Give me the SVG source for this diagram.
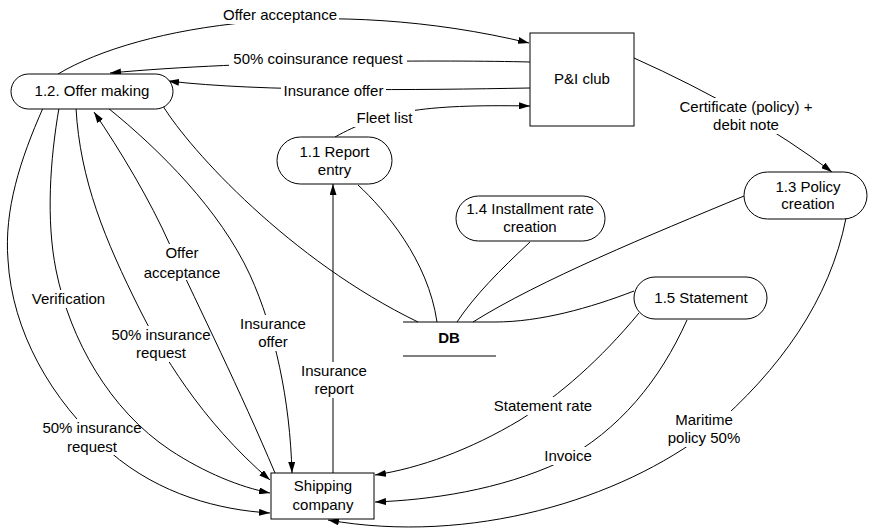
<svg xmlns="http://www.w3.org/2000/svg" width="869" height="531" viewBox="0 0 869 531">
<style>
.ln{fill:none;stroke:#000;stroke-width:1}
.arr{marker-end:url(#ah)}
.nd{fill:#fff;stroke:#000;stroke-width:1}
.t{font-family:"Liberation Sans",Arial,sans-serif;font-size:15px;fill:#000;text-anchor:middle}
.b{font-weight:bold}
.bg{fill:#fff;stroke:none}
</style>
<defs>
<marker id="ah" viewBox="0 0 11 7" refX="11" refY="3.5" markerWidth="11" markerHeight="7" markerUnits="userSpaceOnUse" orient="auto">
<path d="M0,0 L11,3.5 L0,7 z" fill="#000"/>
</marker>
</defs>
<rect width="869" height="531" fill="#fff"/>
<g id="connectors">
<g id="c-offer-acc-top"><path class="ln arr" d="M58,74 C140,25 330,-5 529,43"/><rect class="bg" x="221" y="6" width="118" height="18"/><text class="t" x="280" y="20">Offer acceptance</text></g>
<g id="c-coins"><path class="ln arr" d="M530,62 C450,60 250,60 110,73"/><rect class="bg" x="229" y="50" width="178" height="18"/><text class="t" x="318" y="64">50% coinsurance request</text></g>
<g id="c-ins-offer-top"><path class="ln arr" d="M530,88 C420,90 260,92 168,81"/><rect class="bg" x="281" y="82" width="105" height="18"/><text class="t" x="333.5" y="96">Insurance offer</text></g>
<g id="c-fleet"><path class="ln arr" d="M335,137 C380,112 420,104 530,106"/><rect class="bg" x="354" y="109" width="61" height="18"/><text class="t" x="384.5" y="123">Fleet list</text></g>
<g id="c-cert"><path class="ln arr" d="M634,58 Q750,110 832,172"/><rect class="bg" x="676" y="98" width="139" height="36"/><text class="t" x="746" y="112">Certificate (policy) +</text><text class="t" x="746" y="130">debit note</text></g>
<g id="c-50-outer"><path class="ln arr" d="M43,108 C20,160 4,210 8,260 C12,330 50,400 110,452 C160,495 220,510 270,513"/><rect class="bg" x="39" y="419" width="105" height="36"/><text class="t" x="92" y="433">50% insurance</text><text class="t" x="92" y="452">request</text></g>
<g id="c-verif"><path class="ln arr" d="M59,108 C50,160 46,220 56,270 C70,340 110,410 170,450 C205,473 240,487 270,493"/><rect class="bg" x="29" y="290" width="79" height="18"/><text class="t" x="68.5" y="304">Verification</text></g>
<g id="c-50-inner"><path class="ln arr" d="M76,108 C80,180 105,240 140,310 C160,350 200,420 270,480"/><rect class="bg" x="108" y="326" width="105" height="36"/><text class="t" x="161" y="340">50% insurance</text><text class="t" x="161" y="358">request</text></g>
<g id="c-offer-acc-mid"><path class="ln arr" d="M275,473 C240,390 200,310 170,245 C150,200 120,150 94,112"/><rect class="bg" x="141" y="244" width="82" height="36"/><text class="t" x="182" y="258">Offer</text><text class="t" x="182" y="278">acceptance</text></g>
<g id="c-ins-offer-mid"><path class="ln arr" d="M108,108 C160,150 220,210 250,275 C275,330 290,400 292,473"/><rect class="bg" x="238" y="315" width="71" height="36"/><text class="t" x="273" y="329">Insurance</text><text class="t" x="273" y="347">offer</text></g>
<g id="c-offer-db"><path class="ln" d="M163,106 C190,150 290,260 418,322"/></g>
<g id="c-report"><path class="ln arr" d="M333,473 L333,184"/><rect class="bg" x="299" y="362" width="70" height="36"/><text class="t" x="334" y="376">Insurance</text><text class="t" x="334" y="394">report</text></g>
<g id="c-11-db"><path class="ln" d="M358,185 C385,210 428,260 437,322"/></g>
<g id="c-14-db"><path class="ln" d="M530,242 C500,270 475,295 457,322"/></g>
<g id="c-13-db"><path class="ln" d="M744,196 C650,235 540,280 473,322"/></g>
<g id="c-15-db"><path class="ln" d="M634,291 C590,308 540,322 495,322"/></g>
<g id="c-stmt-rate"><path class="ln arr" d="M639,313 C600,360 560,395 520,420 C470,450 420,468 375,475"/><rect class="bg" x="492" y="397" width="102" height="18"/><text class="t" x="543" y="411">Statement rate</text></g>
<g id="c-invoice"><path class="ln arr" d="M687,320 C660,380 620,430 560,462 C500,490 430,500 375,502"/><rect class="bg" x="542" y="447" width="52" height="18"/><text class="t" x="568" y="461">Invoice</text></g>
<g id="c-maritime"><path class="ln arr" d="M846,218 C830,300 780,370 710,430 C620,500 470,545 328,520"/><rect class="bg" x="665" y="411" width="78" height="36"/><text class="t" x="704" y="425">Maritime</text><text class="t" x="704" y="443">policy 50%</text></g>
</g>
<g id="n-offer"><rect class="nd" x="11" y="74" width="162" height="35" rx="17.5"/><text class="t" x="92" y="96">1.2. Offer making</text></g>
<g id="n-pi"><rect class="nd" x="530" y="33" width="104" height="93"/><text class="t" x="582" y="84">P&amp;I club</text></g>
<g id="n-report"><rect class="nd" x="277" y="137" width="115" height="47" rx="23.5"/><text class="t" x="334.5" y="157">1.1 Report</text><text class="t" x="334.5" y="175">entry</text></g>
<g id="n-policy"><rect class="nd" x="744" y="172" width="123" height="47" rx="23.5"/><text class="t" x="808" y="192">1.3 Policy</text><text class="t" x="808" y="209">creation</text></g>
<g id="n-install"><rect class="nd" x="456" y="196" width="149" height="45" rx="22.5"/><text class="t" x="530" y="214">1.4 Installment rate</text><text class="t" x="530" y="232">creation</text></g>
<g id="n-statement"><rect class="nd" x="634" y="277" width="133" height="42" rx="21"/><text class="t" x="701" y="303">1.5 Statement</text></g>
<g id="n-db"><path class="ln" d="M403,322 L495,322 M403,356 L496,356"/><text class="t b" x="449" y="343">DB</text></g>
<g id="n-shipping"><rect class="nd" x="271" y="473" width="103" height="46"/><text class="t" x="323" y="491">Shipping</text><text class="t" x="323" y="510">company</text></g>
</svg>
